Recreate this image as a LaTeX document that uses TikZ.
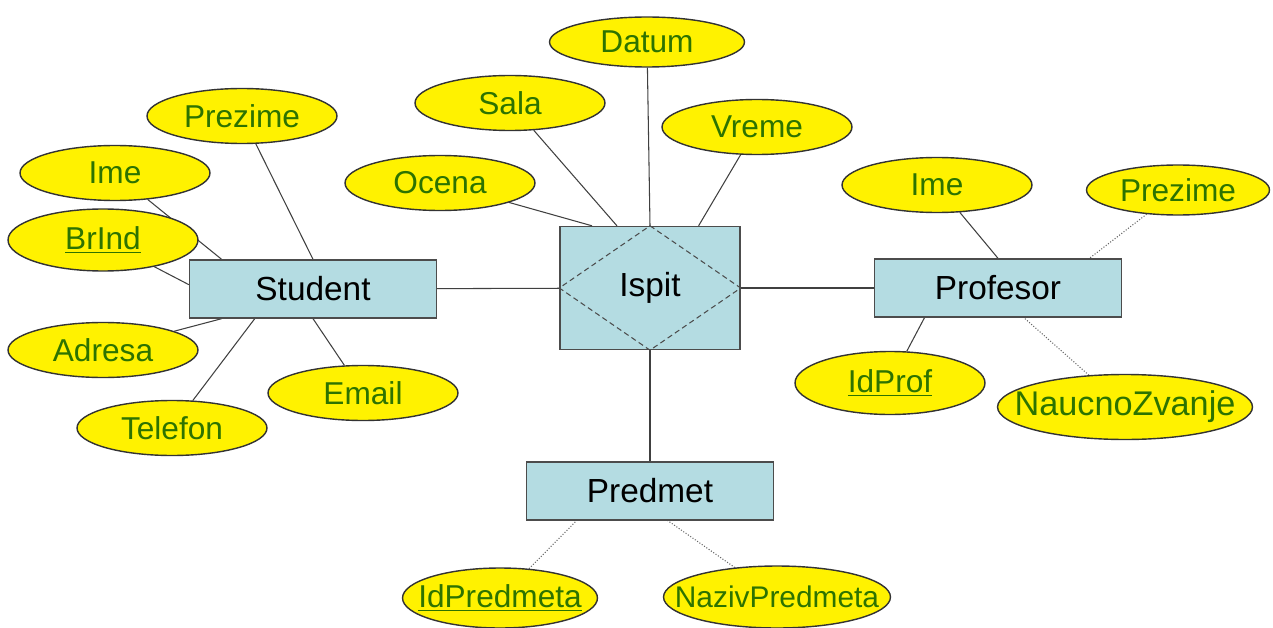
\documentclass[tikz,border=0pt]{standalone}
\usepackage{fontspec}
\setmainfont{Liberation Sans}
\usetikzlibrary{shapes.geometric,backgrounds}

\definecolor{attrgreen}{RGB}{45,115,0}
\definecolor{entblue}{RGB}{180,220,226}

\tikzset{
    attr/.style={ellipse, draw=black!80, line width=0.8pt, fill=yellow, text=attrgreen,
        minimum width=3.8cm, minimum height=1.1cm, inner sep=0pt, font=\fontsize{18}{20}\selectfont},
    entity/.style={rectangle, draw=black!70, line width=0.8pt, fill=entblue,
        minimum width=4.94cm, minimum height=1.16cm, inner sep=0pt, font=\fontsize{19}{21}\selectfont},
    link/.style={draw=black!75, line width=0.6pt},
    weak/.style={draw=black!60, line width=0.6pt, densely dotted}
}

\begin{document}
\begin{tikzpicture}[x=0.02cm, y=-0.02cm]
    \useasboundingbox (0,0) rectangle (1273,628);

    \node[entity] (student) at (313,289) {Student};
    \node[entity, minimum width=3.6cm, minimum height=2.46cm] (ispit) at (650,288) {Ispit};
    \node[entity] (profesor) at (998,288) {Profesor};
    \node[entity] (predmet) at (650,491) {Predmet};
    \draw[black!70, line width=0.6pt, densely dashed] (ispit.north) -- (ispit.east) -- (ispit.south) -- (ispit.west) -- cycle;

    \node[attr, minimum width=3.9cm, minimum height=1.0cm] (datum) at (647,42) {Datum};
    \node[attr] (sala) at (510,103) {Sala};
    \node[attr] (vreme) at (757,127) {Vreme};
    \node[attr] (ocena) at (440,183) {Ocena};

    \node[attr] (prezimeS) at (242,116) {Prezime};
    \node[attr] (imeS) at (115,173) {Ime};
    \node[attr, minimum height=1.24cm] (brind) at (103,240) {\underline{BrInd}};
    \node[attr] (adresa) at (103,350) {Adresa};
    \node[attr] (telefon) at (172,428) {Telefon};
    \node[attr] (email) at (363,393) {Email};

    \node[attr] (imeP) at (937,185) {Ime};
    \node[attr, minimum width=3.66cm, minimum height=1.0cm] (prezimeP) at (1178,190) {Prezime};
    \node[attr, minimum height=1.26cm] (idprof) at (890,383) {\underline{IdProf}};
    \node[attr, minimum width=5.1cm, minimum height=1.3cm, font=\fontsize{19.5}{21}\selectfont] (zvanje) at (1125,407) {\makebox[0pt]{NaucnoZvanje}};

    \node[attr, minimum width=3.9cm, minimum height=1.2cm] (idpredmeta) at (500,598) {\makebox[0pt]{\underline{IdPredmeta}}};
    \node[attr, minimum width=4.54cm, minimum height=1.24cm, font=\fontsize{17}{19}\selectfont] (naziv) at (777,597) {\makebox[0pt]{NazivPredmeta}};

    \begin{scope}[on background layer]
    \draw[link] (student) -- (ispit);
    \draw[link] (ispit) -- (profesor);
    \draw[link] (ispit) -- (predmet);

    \draw[link] (datum) -- (ispit.90);
    \draw[link] (sala) -- (ispit.118);
    \draw[link] (vreme) -- (ispit.52);
    \draw[link] (ocena) -- (ispit.133);

    \draw[link] (prezimeS) -- (student.90);
    \draw[link] (imeS) -- (student.162);
    \draw[link] (brind) -- (student.178);
    \draw[link] (adresa) -- (student.198);
    \draw[link] (telefon) -- (student.207);
    \draw[link] (email) -- (student.270);

    \draw[link] (imeP) -- (profesor.90);
    \draw[weak] (prezimeP) -- (profesor.18);
    \draw[link] (idprof) -- (profesor.202);
    \draw[weak] (zvanje) -- (profesor.311);

    \draw[weak] (idpredmeta) -- (predmet.202);
    \draw[weak] (naziv) -- (predmet.301);
    \end{scope}
\end{tikzpicture}
\end{document}
